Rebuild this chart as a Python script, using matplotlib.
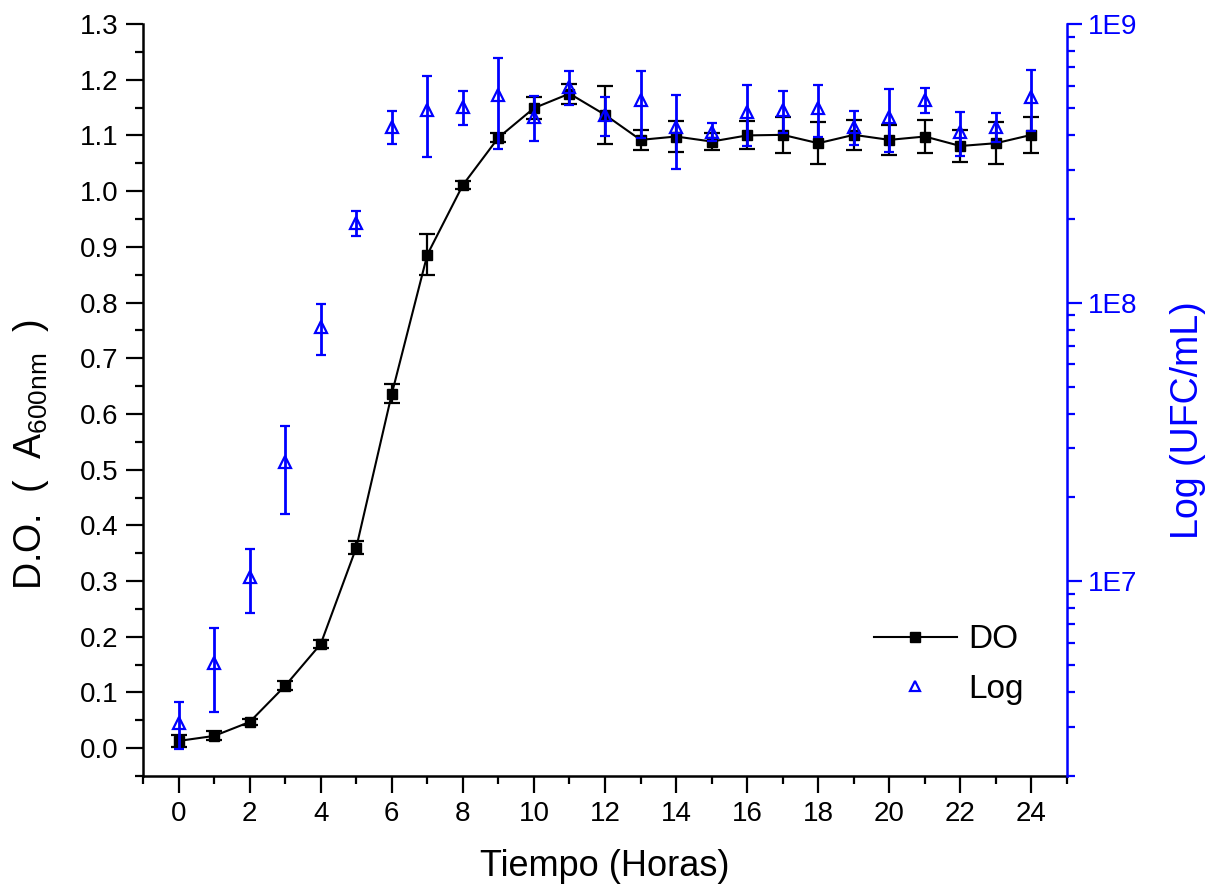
import math

import matplotlib
matplotlib.use('Agg')
import matplotlib.pyplot as plt
from matplotlib.lines import Line2D
from matplotlib.ticker import MultipleLocator, LogLocator, NullFormatter, FixedLocator

plt.rcParams['font.family'] = ['Liberation Sans', 'DejaVu Sans']

# Data
horas = list(range(25))
do_vals = [0.013, 0.022, 0.047, 0.112, 0.187, 0.360, 0.636, 0.886, 1.011, 1.096,
           1.149, 1.175, 1.137, 1.092, 1.098, 1.089, 1.100, 1.101, 1.086, 1.101,
           1.092, 1.098, 1.081, 1.086, 1.101]
do_err = [0.010, 0.008, 0.005, 0.008, 0.008, 0.012, 0.017, 0.037, 0.007, 0.008,
          0.020, 0.018, 0.052, 0.018, 0.028, 0.015, 0.025, 0.032, 0.038, 0.027,
          0.027, 0.030, 0.028, 0.038, 0.032]
log_vals = [3.1e6, 5.1e6, 1.04e7, 2.68e7, 8.2e7, 1.93e8, 4.28e8, 4.91e8, 5.05e8, 5.56e8,
            4.65e8, 5.93e8, 4.71e8, 5.34e8, 4.28e8, 4.10e8, 4.84e8, 4.91e8, 4.98e8, 4.28e8,
            4.65e8, 5.34e8, 4.10e8, 4.28e8, 5.48e8]
log_err = [0.6e6, 1.7e6, 2.7e6, 0.93e7, 1.7e7, 0.2e8, 0.58e8, 1.57e8, 0.7e8, 2.0e8,
           0.85e8, 0.83e8, 0.75e8, 1.45e8, 1.26e8, 0.3e8, 1.18e8, 0.85e8, 1.05e8, 0.6e8,
           1.18e8, 0.54e8, 0.74e8, 0.52e8, 1.34e8]

BLUE = '#0000ff'

fig = plt.figure(figsize=(12.05, 8.92), dpi=100)
ax = fig.add_axes([0.1187, 0.1300, 0.7668, 0.8431])
ax2 = ax.twinx()

ax.errorbar(horas, do_vals, yerr=do_err, color='black', lw=1.5, marker='s', markersize=6.5,
            elinewidth=1.6, capsize=6, capthick=1.6, zorder=3)
ax2.errorbar(horas, log_vals, yerr=log_err, ls='none', marker='^', markersize=8,
             mfc='none', mec=BLUE, mew=1.6, color=BLUE, elinewidth=2, capsize=3.5,
             capthick=1.6, zorder=3)

ax.set_xlim(-1, 25)
ax.set_ylim(-0.05, 1.3)
ax2.set_yscale('log')
ax2.set_ylim(2e6, 1e9)

ax.xaxis.set_major_locator(MultipleLocator(2))
ax.xaxis.set_minor_locator(MultipleLocator(1))
ax.yaxis.set_major_locator(MultipleLocator(0.1))
ax.yaxis.set_minor_locator(MultipleLocator(0.05))
ax.yaxis.set_major_formatter(plt.FuncFormatter(lambda v, p: f"{v:.1f}"))

ax2.yaxis.set_major_locator(FixedLocator([1e7, 1e8, 1e9]))
ax2.yaxis.set_major_formatter(plt.FuncFormatter(lambda v, p: f"1E{int(round(math.log10(v)))}"))
ax2.yaxis.set_minor_locator(LogLocator(base=10, subs=range(2, 10)))
ax2.yaxis.set_minor_formatter(NullFormatter())

for s in ['top', 'right']:
    ax.spines[s].set_visible(False)
for s in ['top', 'left', 'bottom']:
    ax2.spines[s].set_visible(False)
ax.spines['left'].set_linewidth(1.8)
ax.spines['bottom'].set_linewidth(1.8)
ax2.spines['right'].set_linewidth(1.8)
ax2.spines['right'].set_color(BLUE)

ax.tick_params(which='major', direction='out', length=12, width=1.6, labelsize=20, pad=6)
ax.tick_params(which='minor', direction='out', length=6, width=1.6)
ax2.tick_params(which='major', direction='out', length=11, width=1.6, labelsize=20,
                color=BLUE, labelcolor=BLUE, pad=4)
ax2.tick_params(which='minor', direction='out', length=6, width=1.6, color=BLUE)

ax.set_xlabel('Tiempo (Horas)', fontsize=26, labelpad=16)
ax.set_ylabel(r'D.O.  (  A$_{\mathregular{600nm}}$  )', fontsize=27)
ax.yaxis.set_label_coords(-0.100, 0.427)
ax2.set_ylabel('Log (UFC/mL)', fontsize=27, color=BLUE)
ax2.yaxis.set_label_coords(1.111, 0.473)

handles = [Line2D([], [], color='black', lw=1.5, marker='s', markersize=6.5),
           Line2D([], [], ls='none', marker='^', markersize=7, mfc='none', mec=BLUE, mew=1.6)]
ax2.legend(handles, ['DO', 'Log'], loc='lower right', bbox_to_anchor=(0.986, 0.055),
           frameon=False, fontsize=24, handlelength=2.5, handletextpad=0.35, labelspacing=0.55)

fig.savefig('out.png', dpi=100)
